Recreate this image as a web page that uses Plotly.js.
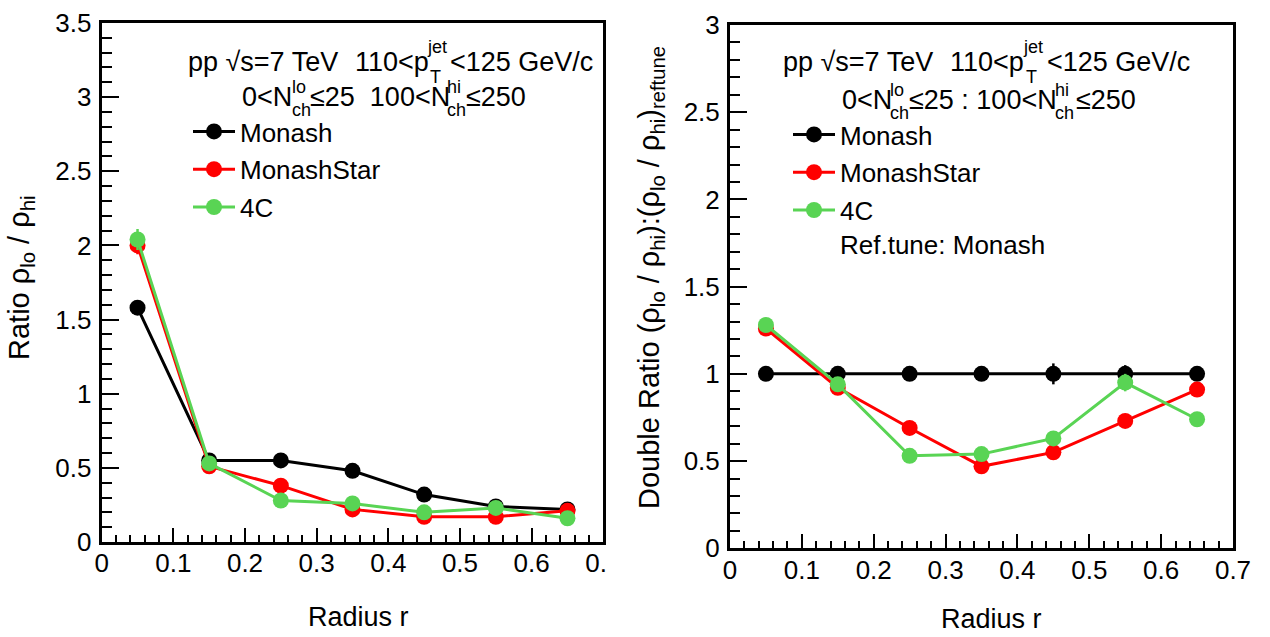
<!DOCTYPE html>
<html>
<head>
<meta charset="utf-8">
<script src="https://cdn.plot.ly/plotly-3.0.1.min.js"></script>
<style>html,body{margin:0;padding:0;background:#fff;}#chart{width:1270px;height:637px;}</style>
</head>
<body>
<div id="chart"></div>
<script>
// ---- data ----
const radius = [0.05, 0.15, 0.25, 0.35, 0.45, 0.55, 0.65];
const seriesNames = ["Monash", "MonashStar", "4C"];
// left panel: ratio rho_lo / rho_hi
const monashRatio     = [1.58, 0.55, 0.55, 0.48, 0.32, 0.24, 0.22];
const monashRatioErr  = [0.03, 0.01, 0.01, 0.01, 0.01, 0.01, 0.01];
const starRatio       = [2.00, 0.51, 0.38, 0.22, 0.17, 0.17, 0.21];
const starRatioErr    = [0.06, 0.01, 0.01, 0.01, 0.01, 0.01, 0.01];
const c4Ratio         = [2.04, 0.53, 0.28, 0.26, 0.20, 0.23, 0.16];
const c4RatioErr      = [0.07, 0.01, 0.01, 0.01, 0.01, 0.01, 0.01];
// right panel: double ratio w.r.t. Monash
const monashDouble    = [1.00, 1.00, 1.00, 1.00, 1.00, 1.00, 1.00];
const monashDoubleErr = [0.01, 0.02, 0.04, 0.04, 0.06, 0.05, 0.04];
const starDouble      = [1.26, 0.92, 0.69, 0.47, 0.55, 0.73, 0.91];
const starDoubleErr   = [0.04, 0.02, 0.02, 0.02, 0.02, 0.03, 0.04];
const c4Double        = [1.28, 0.94, 0.53, 0.54, 0.63, 0.95, 0.74];
const c4DoubleErr     = [0.04, 0.02, 0.02, 0.02, 0.02, 0.05, 0.03];
const xTickVals  = [0, 0.1, 0.2, 0.3, 0.4, 0.5, 0.6, 0.7];
const xTickTextL = ["0", "0.1", "0.2", "0.3", "0.4", "0.5", "0.6", "0.\u00a0\u00a0"];
const xTickTextR = ["0", "0.1", "0.2", "0.3", "0.4", "0.5", "0.6", "0.7"];

// ---- styling ----
const W = 1270, H = 637;
const FONT = "Liberation Sans, Arial, Helvetica, sans-serif";
const colors = ["#000000", "#ff0000", "#59d454"];
const px = v => v / W;
const py = v => (H - v) / H;

function mk(xs, ys, errs, i, xa, ya, leg) {
  return {
    x: xs, y: ys, xaxis: xa, yaxis: ya, type: "scatter", mode: "lines+markers",
    name: seriesNames[i], legend: leg, legendgroup: leg + i,
    line: {color: colors[i], width: 3},
    marker: {color: colors[i], size: 16, symbol: "circle"},
    error_y: {type: "data", array: errs, color: colors[i], thickness: 2.5, width: 0, visible: true},
    cliponaxis: false
  };
}

const traces = [
  mk(radius, monashRatio, monashRatioErr, 0, "x", "y", "legend"),
  mk(radius, starRatio, starRatioErr, 1, "x", "y", "legend"),
  mk(radius, c4Ratio, c4RatioErr, 2, "x", "y", "legend"),
  mk(radius, monashDouble, monashDoubleErr, 0, "x2", "y2", "legend2"),
  mk(radius, starDouble, starDoubleErr, 1, "x2", "y2", "legend2"),
  mk(radius, c4Double, c4DoubleErr, 2, "x2", "y2", "legend2")
];

function xax(dom, anchor, ticktext) {
  return {
    domain: dom, anchor: anchor, range: [0, 0.7], tickmode: "array",
    tickvals: xTickVals, ticktext: ticktext,
    showline: true, linewidth: 3, linecolor: "#000", mirror: true,
    ticks: "inside", ticklen: 14, tickwidth: 2, tickcolor: "#000",
    minor: {tickmode: "linear", tick0: 0, dtick: 0.02, ticks: "inside", ticklen: 7, tickwidth: 2, tickcolor: "#000", showgrid: false},
    showgrid: false, zeroline: false, automargin: false,
    tickfont: {family: FONT, size: 26, color: "#000"}, ticklabelstandoff: -4
  };
}
function yax(dom, anchor, maxv) {
  return {
    domain: dom, anchor: anchor, range: [0, maxv], tickmode: "linear", tick0: 0, dtick: 0.5,
    showline: true, linewidth: 3, linecolor: "#000", mirror: true,
    ticks: "inside", ticklen: 17, tickwidth: 2, tickcolor: "#000",
    minor: {tickmode: "linear", tick0: 0, dtick: 0.1, ticks: "inside", ticklen: 10, tickwidth: 2, tickcolor: "#000", showgrid: false},
    showgrid: false, zeroline: false, automargin: false,
    tickfont: {family: FONT, size: 26, color: "#000"}, ticklabelstandoff: 2
  };
}

function txt(t, x, y, size, extra) {
  return Object.assign({
    text: t, xref: "paper", yref: "paper", x: px(x), y: py(y),
    xanchor: "left", yanchor: "middle", align: "left", showarrow: false, borderpad: 0,
    font: {family: FONT, size: size, color: "#000"}
  }, extra || {});
}

const annotations = [
  // left header
  txt("pp √s=7 TeV", 187, 62, 27),
  txt("110&lt;p", 354, 62, 27),
  txt("jet", 426, 47, 18), txt("T", 429, 77, 18),
  txt("&lt;125 GeV/c", 449, 62, 27),
  txt("0&lt;N", 241, 97, 27),
  txt("lo<br>ch", 291, 98, 18),
  txt("≤25  100&lt;N", 309, 97, 27),
  txt("hi<br>ch", 446, 98, 18),
  txt("≤250", 465, 97, 27),
  // right header
  txt("pp √s=7 TeV", 782, 62, 27),
  txt("110&lt;p", 949, 62, 27),
  txt("jet", 1022, 47, 18), txt("T", 1025, 77, 18),
  txt("&lt;125 GeV/c", 1046, 62, 27),
  txt("0&lt;N", 841, 100, 27),
  txt("lo<br>ch", 889, 101, 18),
  txt("≤25 : 100&lt;N", 908, 100, 27),
  txt("hi<br>ch", 1054, 101, 18),
  txt("≤250", 1075, 100, 27),
  txt("Ref.tune: Monash", 839, 245, 26),
  // axis titles
  txt("Radius r", 358, 617, 27, {xanchor: "center"}),
  txt("Radius r", 991, 619, 27, {xanchor: "center"}),
  txt("Ratio ρ<sub>lo</sub> / ρ<sub>hi</sub>", 21, 278, 29, {xanchor: "center", textangle: -90}),
  txt("Double Ratio (ρ<sub>lo</sub> / ρ<sub>hi</sub>):(ρ<sub>lo</sub> / ρ<sub>hi</sub>)<sub>reftune</sub>", 651, 278, 29, {xanchor: "center", textangle: -90})
];

const layout = {
  width: W, height: H, margin: {l: 0, r: 0, t: 0, b: 0, pad: 0},
  paper_bgcolor: "#fff", plot_bgcolor: "#fff",
  font: {family: FONT, size: 26, color: "#000"},
  xaxis: xax([px(101.7), px(603.3)], "y", xTickTextL),
  yaxis: yax([py(542), py(23)], "x", 3.5),
  xaxis2: xax([px(730), px(1233)], "y2", xTickTextR),
  yaxis2: yax([py(548.3), py(25)], "x2", 3),
  legend: {x: px(188), y: py(108), xanchor: "left", yanchor: "top", bgcolor: "rgba(0,0,0,0)",
           font: {family: FONT, size: 26, color: "#000"}, itemwidth: 42, tracegroupgap: 1, traceorder: "grouped"},
  legend2: {x: px(788), y: py(111), xanchor: "left", yanchor: "top", bgcolor: "rgba(0,0,0,0)",
           font: {family: FONT, size: 26, color: "#000"}, itemwidth: 42, tracegroupgap: 1, traceorder: "grouped"},
  showlegend: true,
  annotations: annotations
};

Plotly.newPlot("chart", traces, layout, {staticPlot: true, displayModeBar: false});
</script>
</body>
</html>
